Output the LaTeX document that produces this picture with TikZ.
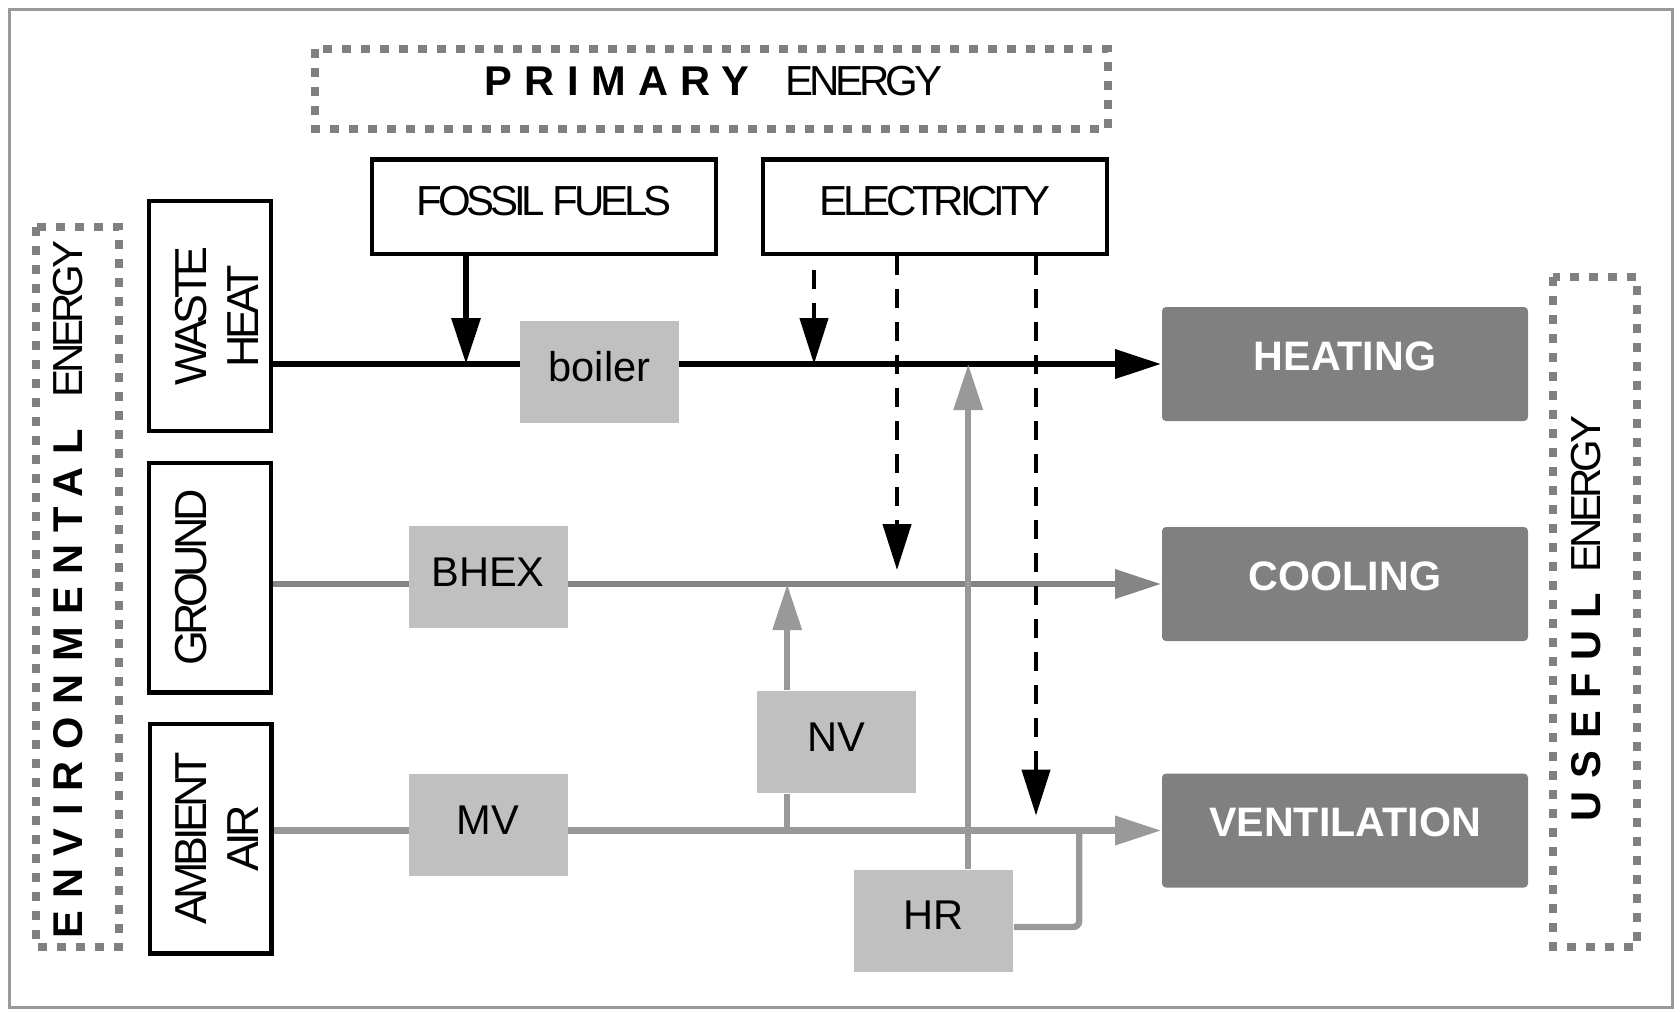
\documentclass[tikz,border=0pt]{standalone}
\usepackage{fontspec}
\setmainfont{Liberation Sans}
\newfontfamily\tightfont[LetterSpace=-10]{Liberation Sans}
\newfontfamily\spacedfont[LetterSpace=30]{Liberation Sans}
\usetikzlibrary{arrows.meta,calc,backgrounds}
\definecolor{flowgray}{HTML}{999999}
\definecolor{coolgray}{HTML}{858585}
\definecolor{usegray}{HTML}{808080}
\definecolor{unitgray}{HTML}{C0C0C0}
\definecolor{dotgray}{HTML}{808080}
\definecolor{framegray}{HTML}{9A9A9A}
\tikzset{
    groupbox/.style = {draw=dotgray, line width=2pt,
        dash pattern=on 2.25pt off 2.5pt},
    flow/.style = {draw=flowgray, line width=1.6pt},
    elecflow/.style = {draw, black, line width=1.1pt,
        dash pattern=on 4.75pt off 3.5pt}
}

\begin{document}
\begin{tikzpicture}[
    x=0.25pt, y=-0.25pt,
    >={Triangle[length=11.5pt,width=7pt]},
    srcbox/.style={draw, line width=1.1pt, fill=white, inner sep=0pt,
        minimum width=85.9pt, minimum height=23.6pt,
        font=\tightfont\fontsize{10.5}{12.6}\selectfont,
        text height=7.5pt, text depth=3pt},
    envbox/.style={draw, line width=1.1pt, fill=white, inner sep=0pt,
        rotate=90, align=center, minimum width=57.4pt, minimum height=30.4pt,
        font=\tightfont\fontsize{11.2}{13}\selectfont},
    unitbox/.style={fill=unitgray, inner sep=0pt,
        minimum width=39.75pt, minimum height=25.5pt,
        font=\fontsize{10.4}{12.5}\selectfont,
        text height=7.5pt, text depth=3pt},
    usebox/.style={fill=usegray, rounded corners=1pt, inner sep=0pt,
        minimum width=91.5pt, minimum height=28.5pt, text=white,
        font=\bfseries\fontsize{10.3}{12.4}\selectfont,
        text height=7.5pt, text depth=4.5pt},
    gtitle/.style={font=\spacedfont\bfseries\fontsize{10.4}{12.5}\selectfont, inner sep=0pt},
    gword/.style={font=\tightfont\fontsize{10.5}{12.6}\selectfont, inner sep=0pt},
    heatflow/.style={draw, black, line width=1.6pt}
]
\useasboundingbox (0,0) rectangle (1680,1011);
\draw[framegray, line width=0.75pt] (9,9) rectangle (1672,1007);

% groups of energy
\draw[groupbox] (315,49) rectangle (1108,129);
\draw[groupbox] (36,227) rectangle (119,947);
\draw[groupbox] (1553,277) rectangle (1637,947);
\node[gtitle] (primtitle) at (617,81) {PRIMARY};
\node[gword] (primword) at (864,81) {ENERGY};
\node[gtitle, rotate=90] (envtitle) at (68,684) {ENVIRONMENTAL};
\node[gword, rotate=90] (envword) at (68,319) {ENERGY};
\node[gtitle, rotate=90] (usetitle) at (1586,707) {USEFUL};
\node[gword, rotate=90] (useword) at (1586,494) {ENERGY};

% sources
\node[srcbox] (fossil) at (544,206.5) {FOSSIL FUELS};
\node[srcbox] (elec) at (935,206.5) {ELECTRICITY};
\node[envbox] (waste) at (210,316) {\rule{0pt}{11pt}WASTE\\HEAT};
\node[envbox, text height=8pt, text depth=10pt] (ground) at (210,577.5) {GROUND};
\node[envbox] (ambient) at (210.5,838.5) {\rule{0pt}{11pt}AMBIENT\\AIR};

% systems
\node[unitbox] (boiler) at (599.5,372) {boiler};
\node[unitbox] (bhex) at (488,577) {BHEX};
\node[unitbox] (mv) at (488,825) {MV};
\node[unitbox] (nv) at (836.5,742) {NV};
\node[unitbox] (hr) at (933.5,920.5) {HR};

% useful energy
\node[usebox] (heat) at (1345,364) {HEATING};
\node[usebox] (cool) at (1345,584) {COOLING};
\node[usebox] (vent) at (1345,830.5) {VENTILATION};

\begin{scope}[on background layer]
\draw[heatflow, ->] (waste.south |- heat) -- (heat);
\draw[flow, draw=coolgray, ->] (ground.south |- cool) -- (cool);
\draw[flow, ->] (ambient.south |- vent) -- (vent);
\end{scope}

\coordinate (fossilout) at ($(fossil.south west)+(96,0)$);
\coordinate (elecA) at ($(elec.south west)+(53,0)$);
\coordinate (elecB) at ($(elec.south west)+(136,0)$);
\coordinate (elecC) at ($(elec.south west)+(275,0)$);
\coordinate (nvup) at ($(nv.north west)+(31,0)$);
\coordinate (nvdown) at ($(nv.south west)+(31,0)$);
\coordinate (hrup) at ($(hr.north west)+(115,0)$);
\coordinate (hrout) at ($(hr.east)+(0,6.5)$);
\coordinate (hrjoin) at ($(vent.west)+(-82,0)$);

\draw[heatflow, ->] (fossilout) -- (fossilout |- heat);
\draw[elecflow, ->, dash phase=4.75pt] (elecA) -- (elecA |- heat);
\draw[elecflow, ->, shorten >=3.5pt] (elecB) -- (elecB |- cool);
\draw[elecflow, ->, shorten >=3.75pt] (elecC) -- (elecC |- vent);
\draw[flow] (nvdown |- vent) -- (nvdown);
\draw[flow, ->] (nvup) -- (nvup |- cool);
\draw[flow, ->] (hrup) -- (hrup |- heat);
\draw[flow, rounded corners=1.5pt] (hrout) -| (hrjoin);
\end{tikzpicture}
\end{document}
